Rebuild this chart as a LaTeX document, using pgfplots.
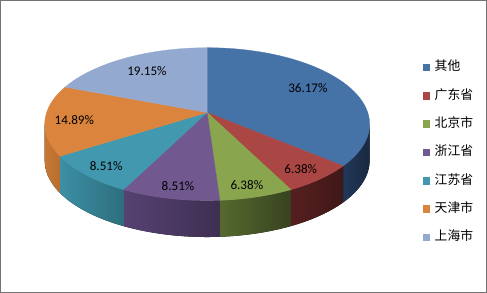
\documentclass[border=0pt]{standalone}
\usepackage{pgfplots}
\pgfplotsset{compat=1.18}
\usepgfplotslibrary{fillbetween}
\usepackage{fontspec}
\setmainfont{Carlito}
\newfontfamily\cjk{Noto Sans CJK SC}
\definecolor{c1}{HTML}{4572A7}
\definecolor{c2}{HTML}{AA4643}
\definecolor{c3}{HTML}{89A54E}
\definecolor{c4}{HTML}{71588F}
\definecolor{c5}{HTML}{4198AF}
\definecolor{c6}{HTML}{DB843D}
\definecolor{c7}{HTML}{93A9CF}
\definecolor{s1a}{HTML}{22385A}
\definecolor{s1b}{HTML}{18283F}
\definecolor{s2a}{HTML}{561F1F}
\definecolor{s2b}{HTML}{401818}
\definecolor{s3a}{HTML}{56692F}
\definecolor{s3b}{HTML}{38431F}
\definecolor{s4a}{HTML}{564272}
\definecolor{s4b}{HTML}{3E2F52}
\definecolor{s5a}{HTML}{3C8FA4}
\definecolor{s5b}{HTML}{2D6E7E}
\definecolor{s6a}{HTML}{C87834}
\definecolor{s6b}{HTML}{B86E30}
% shares (percent): 36.17, 6.38, 6.38, 8.51, 8.51, 14.89, 19.15
% cumulative angles (deg, clockwise from top)
\def\aA{0}
\def\aB{130.21}
\def\aC{153.18}
\def\aD{176.15}
\def\aE{206.78}
\def\aF{237.42}
\def\aG{291.02}
\def\aH{360}
\def\sL{98.76}
\def\sR{261.24}
\begin{document}
\begin{tikzpicture}
\begin{axis}[
  scale only axis, width=487bp, height=294bp,
  xmin=0, xmax=487, ymin=0, ymax=294, y dir=reverse,
  hide axis, clip=false,
  declare function={px(\t)=206.5+158.6*sin(\t)/(1+0.1523*cos(\t));
                    py(\t)=113-73.75*cos(\t)/(1+0.1523*cos(\t));},
  samples=40,
  legend cell align=left,
  legend style={at={(axis cs:419.3,61.5)}, anchor=north west, draw=none, fill=none,
    inner sep=0pt, row sep=15.3bp, font=\cjk\fontsize{12.7}{13}\selectfont,
    nodes={inner sep=0pt, text height=10bp, text depth=2.7bp},
    /tikz/every odd column/.append style={column sep=5bp}},
  legend image code/.code={\fill[#1] (0bp,-3.3bp) rectangle (6.5bp,3.3bp);},
]
\path[draw=gray!90!black, line width=0.9bp] (axis cs:2.3,2.3) rectangle (axis cs:482.5,290.5);
% ---- sides
\addplot[draw=none, forget plot, name path=t1, domain=\sL:\aB] ({px(x)},{py(x)});
\addplot[draw=none, forget plot, name path=b1, domain=\sL:\aB] ({px(x)},{py(x)+36});
\addplot[left color=s1a, right color=s1b, forget plot] fill between[of=t1 and b1];
\addplot[draw=none, forget plot, name path=t2, domain=\aB:\aC] ({px(x)},{py(x)});
\addplot[draw=none, forget plot, name path=b2, domain=\aB:\aC] ({px(x)},{py(x)+36});
\addplot[left color=s2a, right color=s2b, forget plot] fill between[of=t2 and b2];
\addplot[draw=none, forget plot, name path=t3, domain=\aC:\aD] ({px(x)},{py(x)});
\addplot[draw=none, forget plot, name path=b3, domain=\aC:\aD] ({px(x)},{py(x)+36});
\addplot[left color=s3a, right color=s3b, forget plot] fill between[of=t3 and b3];
\addplot[draw=none, forget plot, name path=t4, domain=\aD:\aE] ({px(x)},{py(x)});
\addplot[draw=none, forget plot, name path=b4, domain=\aD:\aE] ({px(x)},{py(x)+36});
\addplot[left color=s4a, right color=s4b, forget plot] fill between[of=t4 and b4];
\addplot[draw=none, forget plot, name path=t5, domain=\aE:\aF] ({px(x)},{py(x)});
\addplot[draw=none, forget plot, name path=b5, domain=\aE:\aF] ({px(x)},{py(x)+36});
\addplot[left color=s5a, right color=s5b, forget plot] fill between[of=t5 and b5];
\addplot[draw=none, forget plot, name path=t6, domain=\aF:\sR] ({px(x)},{py(x)});
\addplot[draw=none, forget plot, name path=b6, domain=\aF:\sR] ({px(x)},{py(x)+36});
\addplot[left color=s6a, right color=s6b, forget plot] fill between[of=t6 and b6];
% ---- top face
\addplot[fill=c1, draw=c1, line width=0.3bp, domain=\aA:\aB, samples=80] ({px(x)},{py(x)}) -- (axis cs:206.5,113) -- cycle;
\addplot[fill=c2, draw=c2, line width=0.3bp, domain=\aB:\aC] ({px(x)},{py(x)}) -- (axis cs:206.5,113) -- cycle;
\addplot[fill=c3, draw=c3, line width=0.3bp, domain=\aC:\aD] ({px(x)},{py(x)}) -- (axis cs:206.5,113) -- cycle;
\addplot[fill=c4, draw=c4, line width=0.3bp, domain=\aD:\aE] ({px(x)},{py(x)}) -- (axis cs:206.5,113) -- cycle;
\addplot[fill=c5, draw=c5, line width=0.3bp, domain=\aE:\aF] ({px(x)},{py(x)}) -- (axis cs:206.5,113) -- cycle;
\addplot[fill=c6, draw=c6, line width=0.3bp, domain=\aF:\aG] ({px(x)},{py(x)}) -- (axis cs:206.5,113) -- cycle;
\addplot[fill=c7, draw=c7, line width=0.3bp, domain=\aG:\aH, samples=60] ({px(x)},{py(x)}) -- (axis cs:206.5,113) -- cycle;
\legend{其他,广东省,北京市,浙江省,江苏省,天津市,上海市}
% ---- labels
\begin{scope}[every node/.style={font=\fontsize{13}{15}\selectfont, inner sep=0pt}]
\node at (axis cs:306,89) {36.17\%};
\node at (axis cs:299,169) {6.38\%};
\node at (axis cs:245.7,185) {6.38\%};
\node at (axis cs:177.7,186) {8.51\%};
\node at (axis cs:106.7,165.7) {8.51\%};
\node at (axis cs:75.3,120) {14.89\%};
\node at (axis cs:147,71.7) {19.15\%};
\end{scope}
\end{axis}
\end{tikzpicture}
\end{document}
